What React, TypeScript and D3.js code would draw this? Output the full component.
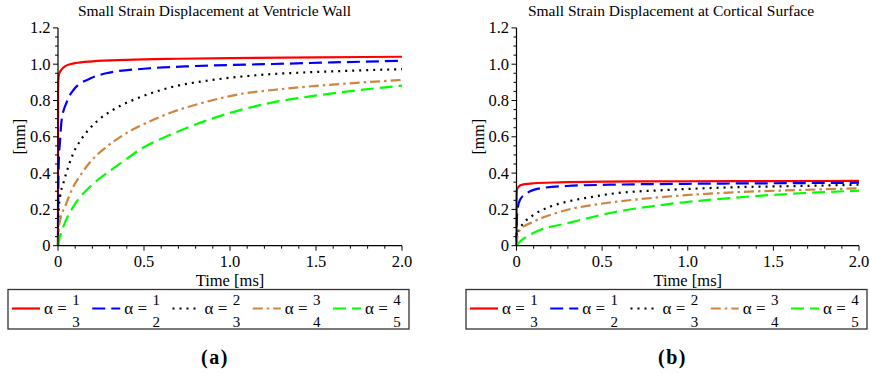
import React from "react";
import * as d3 from "d3";

// ---- data: displacement [mm] vs time [ms] for fractional orders alpha ----
const alphaNum = ["1", "1", "2", "3", "4"];
const alphaDen = ["3", "2", "3", "4", "5"];
const seriesColors = ["#ff0000", "#0000ff", "#000000", "#cd853f", "#00ff00"];
const seriesDashes = ["none", "13,6", "2,5", "10,4,2.5,4", "13,6"];

const xTickValues = [0, 0.5, 1.0, 1.5, 2.0];
const xTickLabels = ["0", "0.5", "1.0", "1.5", "2.0"];
const yTickValues = [0, 0.2, 0.4, 0.6, 0.8, 1.0, 1.2];
const yTickLabels = ["0", "0.2", "0.4", "0.6", "0.8", "1.0", "1.2"];

// Ventricle wall
const wallT13 = [0, 0.0005, 0.002, 0.005, 0.01, 0.02, 0.04, 0.07, 0.1, 0.2, 0.4, 0.7, 1.0, 1.5, 2.0];
const wallV13 = [0, 0.82, 0.91, 0.94, 0.955, 0.97, 0.988, 1.0, 1.006, 1.016, 1.024, 1.03, 1.034, 1.038, 1.041];
const wallT12 = [0, 0.0005, 0.002, 0.005, 0.012, 0.021, 0.05, 0.09, 0.19, 0.28, 0.5, 0.8, 1.25, 1.6, 2.0];
const wallV12 = [0, 0.2, 0.36, 0.47, 0.58, 0.69, 0.79, 0.858, 0.922, 0.95, 0.975, 0.99, 1.001, 1.01, 1.019];
const wallT23 = [0, 0.001, 0.004, 0.012, 0.031, 0.06, 0.089, 0.138, 0.186, 0.244, 0.302, 0.36, 0.477, 0.67, 0.864, 1.058, 1.25, 1.446, 1.64, 2.0];
const wallV23 = [0, 0.1, 0.2, 0.27, 0.344, 0.435, 0.509, 0.59, 0.647, 0.7, 0.738, 0.77, 0.818, 0.876, 0.909, 0.931, 0.946, 0.955, 0.962, 0.973];
const wallT34 = [0, 0.003, 0.012, 0.041, 0.089, 0.138, 0.186, 0.283, 0.38, 0.477, 0.67, 0.864, 1.058, 1.25, 1.446, 1.64, 2.0];
const wallV34 = [0, 0.07, 0.14, 0.215, 0.325, 0.399, 0.46, 0.545, 0.61, 0.66, 0.738, 0.793, 0.835, 0.858, 0.876, 0.891, 0.913];
const wallT45 = [0, 0.005, 0.031, 0.089, 0.186, 0.283, 0.38, 0.477, 0.67, 0.864, 1.058, 1.25, 1.446, 1.64, 2.0];
const wallV45 = [0, 0.025, 0.105, 0.215, 0.325, 0.399, 0.465, 0.53, 0.618, 0.69, 0.747, 0.79, 0.82, 0.845, 0.882];

// Cortical surface
const cortT13 = [0, 0.0005, 0.003, 0.01, 0.02, 0.05, 0.1, 0.25, 0.546, 1.0, 1.5, 2.0];
const cortV13 = [0, 0.27, 0.31, 0.322, 0.332, 0.339, 0.344, 0.349, 0.353, 0.355, 0.356, 0.357];
const cortT12 = [0, 0.001, 0.005, 0.02, 0.06, 0.137, 0.293, 0.546, 1.0, 1.5, 2.0];
const cortV12 = [0, 0.1, 0.19, 0.252, 0.289, 0.316, 0.329, 0.336, 0.341, 0.344, 0.347];
const cortT23 = [0, 0.002, 0.01, 0.04, 0.098, 0.196, 0.293, 0.43, 0.546, 0.877, 1.266, 1.655, 2.0];
const cortV23 = [0, 0.04, 0.077, 0.123, 0.169, 0.215, 0.242, 0.267, 0.285, 0.307, 0.322, 0.329, 0.336];
const cortT34 = [0, 0.003, 0.02, 0.098, 0.196, 0.293, 0.43, 0.546, 0.877, 1.266, 1.655, 2.0];
const cortV34 = [0, 0.04, 0.086, 0.132, 0.169, 0.197, 0.222, 0.238, 0.27, 0.294, 0.307, 0.316];
const cortT45 = [0, 0.01, 0.06, 0.137, 0.293, 0.546, 0.877, 1.266, 1.655, 2.0];
const cortV45 = [0, 0.013, 0.05, 0.086, 0.123, 0.18, 0.228, 0.264, 0.289, 0.303];

const wallSeries = [
  [wallT13, wallV13],
  [wallT12, wallV12],
  [wallT23, wallV23],
  [wallT34, wallV34],
  [wallT45, wallV45],
];
const cortSeries = [
  [cortT13, cortV13],
  [cortT12, cortV12],
  [cortT23, cortV23],
  [cortT34, cortV34],
  [cortT45, cortV45],
];

const SERIF = '"Liberation Serif", "DejaVu Serif", serif';

type PanelProps = {
  x0: number;
  x1: number;
  title: string;
  titleX: number;
  caption: string;
  captionX: number;
  series: number[][][];
  legendX: number;
};

function Panel({ x0, x1, title, titleX, caption, captionX, series, legendX }: PanelProps) {
  const y0 = 245.7;
  const y1 = 27.9;
  const x = d3.scaleLinear().domain([0, 2]).range([x0, x1]);
  const y = d3.scaleLinear().domain([0, 1.2]).range([y0, y1]);
  const line = d3
    .line<[number, number]>()
    .x((d) => x(d[0]))
    .y((d) => y(d[1]))
    .curve(d3.curveMonotoneX);

  const xMinor = d3.range(0, 2.0001, 0.1).filter((v) => Math.abs(v * 2 - Math.round(v * 2)) > 1e-6);
  const yMinor = d3.range(0, 1.2001, 0.05).filter((v) => Math.abs(v * 5 - Math.round(v * 5)) > 1e-6);

  const itemStep = 80.25;
  const txt = (size: number, extra: React.CSSProperties = {}): React.CSSProperties => ({
    fontFamily: SERIF,
    fontSize: size,
    ...extra,
  });
  return (
    <g>
      <text x={titleX} y={16} textAnchor="middle" style={txt(15.5)}>
        {title}
      </text>

      {/* curves */}
      {series.map(([ts, vs], i) => (
        <path
          key={i}
          d={line(ts.map((t, k) => [t, vs[k]] as [number, number])) || ""}
          fill="none"
          stroke={seriesColors[i]}
          strokeWidth={2.2}
          strokeDasharray={seriesDashes[i]}
        />
      ))}

      {/* axes */}
      <line x1={x0} x2={x0} y1={y1} y2={y0} stroke="#000" strokeWidth={1.2} />
      <line x1={x0} x2={x1} y1={y0} y2={y0} stroke="#000" strokeWidth={1.2} />
      {xTickValues.map((v, i) => (
        <g key={"xt" + i}>
          <line x1={x(v)} x2={x(v)} y1={y0} y2={y0 + 5} stroke="#000" strokeWidth={1} />
          <text x={x(v)} y={266.5} textAnchor="middle" style={txt(16.5)}>
            {xTickLabels[i]}
          </text>
        </g>
      ))}
      {xMinor.map((v, i) => (
        <line key={"xm" + i} x1={x(v)} x2={x(v)} y1={y0} y2={y0 + 3} stroke="#000" strokeWidth={1} />
      ))}
      {yTickValues.map((v, i) => (
        <g key={"yt" + i}>
          <line x1={x0 - 5} x2={x0} y1={y(v)} y2={y(v)} stroke="#000" strokeWidth={1} />
          <text x={x0 - 7.5} y={y(v) + 5.5} textAnchor="end" style={txt(16.5)}>
            {yTickLabels[i]}
          </text>
        </g>
      ))}
      {yMinor.map((v, i) => (
        <line key={"ym" + i} x1={x0 - 3} x2={x0} y1={y(v)} y2={y(v)} stroke="#000" strokeWidth={1} />
      ))}

      <text
        transform={`translate(${x0 - 38},${(y0 + y1) / 2}) rotate(-90)`}
        textAnchor="middle"
        style={txt(16)}
        dy={5}
      >
        [mm]
      </text>
      <text x={(x0 + x1) / 2} y={285.5} textAnchor="middle" style={txt(16.5)}>
        Time [ms]
      </text>

      {/* legend */}
      <rect x={legendX} y={289.5} width={401} height={39.5} fill="none" stroke="#333" strokeWidth={1.3} />
      {seriesColors.map((c, i) => {
        const sx = legendX + 4 + i * itemStep;
        return (
          <g key={"lg" + i}>
            <line
              x1={sx}
              x2={sx + 28}
              y1={308.5}
              y2={308.5}
              stroke={c}
              strokeWidth={2.2}
              strokeDasharray={seriesDashes[i]}
            />
            <text x={sx + 32} y={314} style={txt(17)}>
              α
            </text>
            <text x={sx + 50} y={314} textAnchor="middle" style={txt(17)}>
              =
            </text>
            <text x={sx + 64} y={304.5} textAnchor="middle" style={txt(15)}>
              {alphaNum[i]}
            </text>
            <text x={sx + 64} y={326.5} textAnchor="middle" style={txt(15)}>
              {alphaDen[i]}
            </text>
          </g>
        );
      })}

      <text
        x={captionX}
        y={364}
        textAnchor="middle"
        style={txt(20, { fontWeight: "bold", letterSpacing: "1.5px" })}
      >
        {caption}
      </text>
    </g>
  );
}

export default function App() {
  return (
    <svg
      width={870}
      height={373}
      viewBox="0 0 870 373"
      style={{ position: "absolute", left: 0, top: 0, background: "#fff" }}
    >
      <rect width={870} height={373} fill="#fff" />
      <Panel
        x0={58}
        x1={402}
        title="Small Strain Displacement at Ventricle Wall"
        titleX={214.5}
        caption="(a)"
        captionX={215}
        series={wallSeries}
        legendX={8}
      />
      <Panel
        x0={516.5}
        x1={859}
        title="Small Strain Displacement at Cortical Surface"
        titleX={671}
        caption="(b)"
        captionX={672.5}
        series={cortSeries}
        legendX={466}
      />
    </svg>
  );
}
